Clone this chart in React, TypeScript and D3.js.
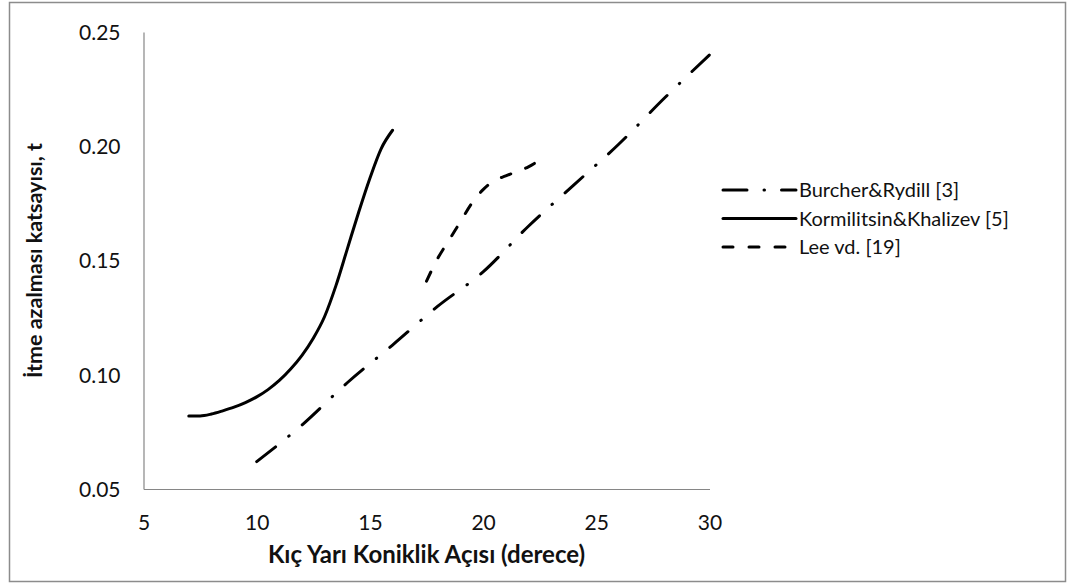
import React, { useEffect, useRef } from 'react';
import * as d3 from 'd3';

// Burcher & Rydill
const burcherX = [10, 12, 14, 16, 18, 20, 22, 24, 26, 28, 30];
const burcherY = [0.062, 0.078, 0.0965, 0.113, 0.130, 0.145, 0.165, 0.183, 0.201, 0.221, 0.240];

// Kormilitsin & Khalizev
const kormX = [7, 7.5, 8, 8.5, 9, 9.5, 10, 10.5, 11, 11.5, 12, 12.5, 13, 13.5, 14, 14.5, 15, 15.5, 16];
const kormY = [0.082, 0.082, 0.0828, 0.0842, 0.0858, 0.0878, 0.0903, 0.0935, 0.0975, 0.1025, 0.1085, 0.116, 0.1255, 0.139, 0.155, 0.171, 0.186, 0.199, 0.207];

// Lee vd.
const leeX = [17.5, 18, 18.5, 19, 19.5, 20, 20.5, 21, 21.5, 22, 22.5];
const leeY = [0.141, 0.151, 0.159, 0.167, 0.175, 0.181, 0.185, 0.187, 0.189, 0.191, 0.194];

const xTicks = [5, 10, 15, 20, 25, 30];
const yTicks = [0.05, 0.10, 0.15, 0.20, 0.25];

const seriesNames = ['Burcher&Rydill [3]', 'Kormilitsin&Khalizev [5]', 'Lee vd. [19]'];
const dashes = ['24 17 0.5 17', 'none', '10 16'];

const App: React.FC = () => {
    const ref = useRef<SVGSVGElement>(null);

    useEffect(() => {
        const svg = d3.select(ref.current);
        svg.selectAll('*').remove();

        const font = 'Lato, "Open Sans", sans-serif';
        const x = d3.scaleLinear().domain([5, 30]).range([143.5, 709.5]);
        const y = d3.scaleLinear().domain([0.05, 0.25]).range([489, 32]);

        // outer frame
        svg.append('rect')
            .attr('x', 9.5).attr('y', 2.5)
            .attr('width', 1056).attr('height', 579)
            .attr('fill', 'white')
            .attr('stroke', '#8c8c8c')
            .attr('stroke-width', 1.5);

        const xAxis = svg.append('g')
            .attr('transform', `translate(0, ${y(0.05)})`)
            .call(d3.axisBottom(x).tickValues(xTicks).tickSize(0).tickPadding(26).tickFormat(d3.format('d')));
        const yAxis = svg.append('g')
            .attr('transform', `translate(${x(5)}, 0)`)
            .call(d3.axisLeft(y).tickValues(yTicks).tickSize(0).tickPadding(23).tickFormat(d3.format('.2f')));

        [xAxis, yAxis].forEach(a => {
            a.select('.domain').attr('stroke', '#868686').attr('stroke-width', 1.2);
            a.selectAll('text')
                .attr('font-family', font)
                .attr('font-size', 21)
                .attr('fill', '#111');
        });
        yAxis.selectAll('text').attr('dy', '0.35em');

        const series = [
            burcherX.map((v, i) => [v, burcherY[i]] as [number, number]),
            kormX.map((v, i) => [v, kormY[i]] as [number, number]),
            leeX.map((v, i) => [v, leeY[i]] as [number, number]),
        ];

        const line = d3.line<[number, number]>()
            .x(d => x(d[0]))
            .y(d => y(d[1]))
            .curve(d3.curveMonotoneX);

        series.forEach((s, i) => {
            svg.append('path')
                .datum(s)
                .attr('d', line)
                .attr('fill', 'none')
                .attr('stroke', 'black')
                .attr('stroke-width', 3)
                .attr('stroke-linecap', 'round')
                .attr('stroke-dasharray', dashes[i]);
        });

        // legend
        const legend = svg.append('g');
        seriesNames.forEach((name, i) => {
            const ly = 190 + i * 28.5;
            legend.append('line')
                .attr('x1', 723).attr('x2', 796)
                .attr('y1', ly).attr('y2', ly)
                .attr('stroke', 'black')
                .attr('stroke-width', 3)
                .attr('stroke-linecap', 'round')
                .attr('stroke-dasharray', dashes[i]);
            legend.append('text')
                .attr('x', 799).attr('y', ly)
                .attr('dy', '0.35em')
                .attr('font-family', font)
                .attr('font-size', 20)
                .attr('fill', '#111')
                .text(name);
        });

        // axis titles
        svg.append('text')
            .attr('x', (x(5) + x(30)) / 2)
            .attr('y', 563)
            .attr('text-anchor', 'middle')
            .attr('font-family', font)
            .attr('font-weight', 'bold')
            .attr('font-size', 24)
            .attr('fill', '#111')
            .text('Kıç Yarı Koniklik Açısı (derece)');

        svg.append('text')
            .attr('transform', `translate(42, ${(y(0.05) + y(0.25)) / 2}) rotate(-90)`)
            .attr('text-anchor', 'middle')
            .attr('font-family', font)
            .attr('font-weight', 'bold')
            .attr('font-size', 21.5)
            .attr('fill', '#111')
            .text('İtme azalması katsayısı, t');
    }, []);

    return <svg ref={ref} width={1069} height={584} style={{ position: 'absolute', left: 0, top: 0 }}></svg>;
};

export default App;
